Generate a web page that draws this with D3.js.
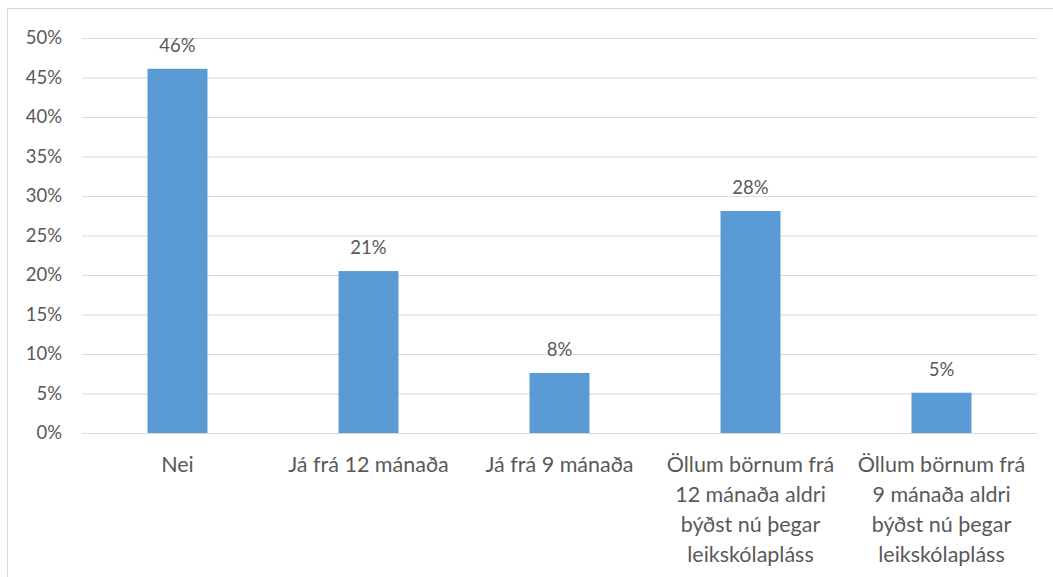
<!DOCTYPE html>
<html>
<head>
<meta charset="utf-8">
<script src="https://cdn.jsdelivr.net/npm/d3@7"></script>
<style>
  body { margin: 0; background: #fff; }
  svg text { font-family: Lato, "Open Sans", sans-serif; fill: #595959; }
</style>
</head>
<body>
<div class="canvas"></div>
<script>
// data
const categories = [
  'Nei',
  'Já frá 12 mánaða',
  'Já frá 9 mánaða',
  'Öllum börnum frá\n12 mánaða aldri\nbýðst nú þegar\nleikskólapláss',
  'Öllum börnum frá\n9 mánaða aldri\nbýðst nú þegar\nleikskólapláss'
];
const values = [46.1, 20.5, 7.6, 28.1, 5.1];
const yTicks = [0, 5, 10, 15, 20, 25, 30, 35, 40, 45, 50];

const width = 1053;
const height = 577;

const svg = d3.select('.canvas')
  .append('svg')
  .attr('width', width)
  .attr('height', height);

// chart border
svg.append('rect')
  .attr('x', 7.5)
  .attr('y', 8.5)
  .attr('width', width)
  .attr('height', height)
  .attr('fill', 'none')
  .attr('stroke', '#d9d9d9');

const margin = { top: 38, right: 16, bottom: 144, left: 82 };
const graphWidth = width - margin.left - margin.right;
const graphHeight = 433 - margin.top;

const graph = svg.append('g')
  .attr('transform', `translate(${margin.left}, ${margin.top})`);

// scales
const x = d3.scaleBand()
  .domain(categories)
  .range([0, graphWidth])
  .paddingInner(0.686)
  .paddingOuter(0.343);

const y = d3.scaleLinear()
  .domain([0, 50])
  .range([graphHeight, 0]);

// gridlines + y labels
const yAxis = d3.axisLeft(y)
  .tickValues(yTicks)
  .tickSize(-graphWidth)
  .tickPadding(20)
  .tickFormat(d => `${d}%`);

const yAxisGroup = graph.append('g').call(yAxis);
yAxisGroup.select('.domain').remove();
yAxisGroup.selectAll('line').attr('stroke', '#d9d9d9');
yAxisGroup.selectAll('text')
  .attr('font-size', 18.5)
  .attr('fill', '#595959');

// bars
graph.selectAll('rect.bar')
  .data(values)
  .enter()
  .append('rect')
  .attr('class', 'bar')
  .attr('x', (d, i) => x(categories[i]))
  .attr('y', d => y(d))
  .attr('width', x.bandwidth())
  .attr('height', d => graphHeight - y(d))
  .attr('fill', '#5b9bd5');

// data labels
graph.selectAll('text.val')
  .data(values)
  .enter()
  .append('text')
  .attr('class', 'val')
  .attr('x', (d, i) => x(categories[i]) + x.bandwidth() / 2)
  .attr('y', d => y(d) - 17)
  .attr('text-anchor', 'middle')
  .attr('font-size', 18.5)
  .text(d => `${Math.round(d)}%`);

// category labels
const xAxisGroup = graph.append('g')
  .attr('transform', `translate(0, ${graphHeight})`);

const cats = xAxisGroup.selectAll('text')
  .data(categories)
  .enter()
  .append('text')
  .attr('text-anchor', 'middle')
  .attr('font-size', 21.5)
  .attr('x', d => x(d) + x.bandwidth() / 2)
  .attr('y', 39);

cats.each(function(d) {
  const el = d3.select(this);
  const cx = x(d) + x.bandwidth() / 2;
  d.split('\n').forEach((line, i) => {
    el.append('tspan')
      .attr('x', cx)
      .attr('dy', i === 0 ? 0 : 30)
      .text(line);
  });
});
</script>
</body>
</html>
